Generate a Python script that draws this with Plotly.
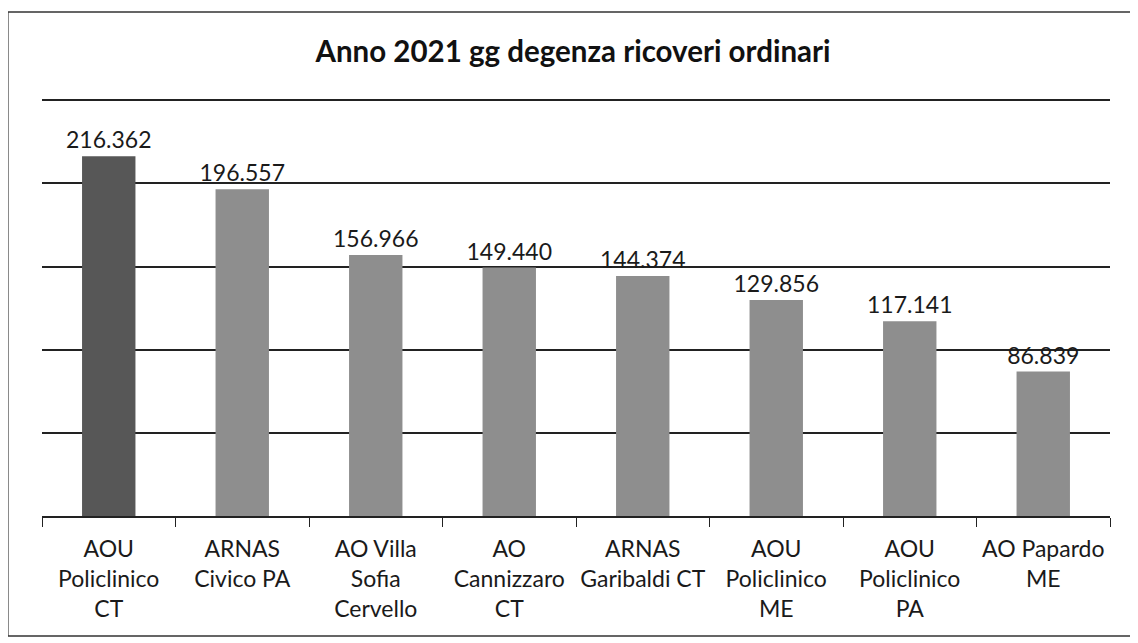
import plotly.graph_objects as go

# giorni di degenza ricoveri ordinari, anno 2021
aziende = [
    "AOU<br>Policlinico<br>CT",
    "ARNAS<br>Civico PA",
    "AO Villa<br>Sofia<br>Cervello",
    "AO<br>Cannizzaro<br>CT",
    "ARNAS<br>Garibaldi CT",
    "AOU<br>Policlinico<br>ME",
    "AOU<br>Policlinico<br>PA",
    "AO Papardo<br>ME",
]
giornate = [216362, 196557, 156966, 149440, 144374, 129856, 117141, 86839]
colori = ["#575757"] + ["#8e8e8e"] * 7

FONT = "Lato, 'Open Sans', sans-serif"

fig = go.Figure()
fig.add_trace(go.Bar(
    x=aziende, y=giornate,
    marker=dict(color=colori, line=dict(width=0)),
    texttemplate="%{y:,}", textposition="outside", cliponaxis=False,
    constraintext="none",
    textfont=dict(size=23, color="#1a1a1a", family=FONT),
))

# la pagina ha 8px di margine nel body: la figura è ridotta di conseguenza
fig.update_layout(
    width=1130, height=635,
    separators=",.",
    paper_bgcolor="white", plot_bgcolor="white",
    margin=dict(l=34, r=28, t=89, b=127, autoexpand=False),
    bargap=0.6,
    showlegend=False,
    font=dict(family=FONT, color="#1a1a1a"),
    title=dict(text="<b>Anno 2021 gg degenza ricoveri ordinari</b>",
               x=0.5, xanchor="center", y=0.931, yanchor="middle",
               font=dict(size=29.5, family=FONT, color="#111")),
    shapes=[dict(type="rect", xref="paper", yref="paper",
                 x0=-0.032, x1=1.0197, y0=-0.2864, y1=1.2029,
                 line=dict(color="#333", width=1.5))],
)
fig.update_xaxes(
    showline=True, linecolor="#222", linewidth=1.5,
    ticks="outside", tickson="boundaries", ticklen=9, tickcolor="#222",
    tickangle=0, ticklabelstandoff=12,
    tickfont=dict(size=23, family=FONT, color="#1a1a1a"),
    automargin=False,
)
fig.update_yaxes(
    range=[0, 252000], tickvals=[50000, 100000, 150000, 200000, 250000],
    showticklabels=False, automargin=False,
    showgrid=True, gridcolor="#222", gridwidth=1.5, zeroline=False,
)

fig.write_html("out.html")
